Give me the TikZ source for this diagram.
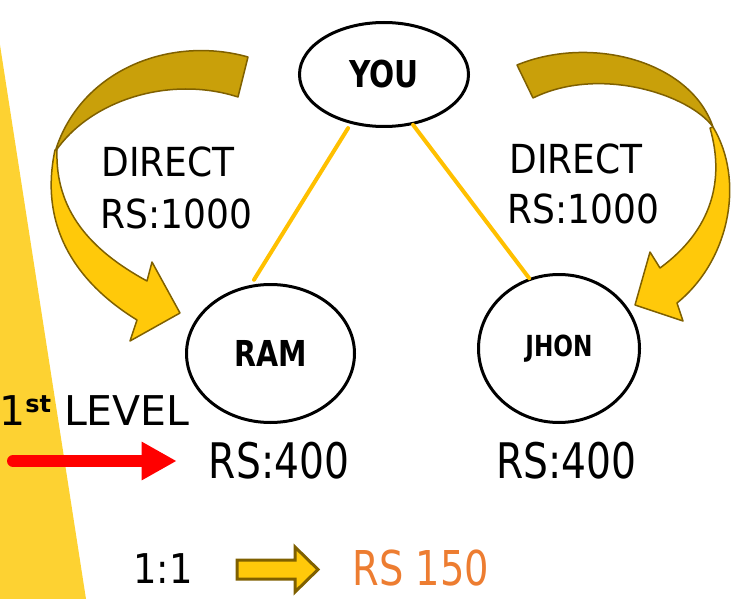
\documentclass[tikz,border=0pt]{standalone}
\usepackage{fontspec}
\setmainfont{DejaVu Sans}
\newfontfamily\widefont{DejaVu Sans}[FakeStretch=0.9]
\newfontfamily\slimfont{DejaVu Sans}[FakeStretch=0.8]
\usetikzlibrary{arrows.meta,shapes.geometric,calc}
\definecolor{band}{RGB}{253,210,50}
\definecolor{linkgold}{RGB}{255,192,0}
\definecolor{goldfront}{RGB}{255,201,10}
\definecolor{goldback}{RGB}{201,160,10}
\definecolor{olive}{RGB}{127,96,0}
\definecolor{rsorange}{RGB}{237,125,49}
\tikzset{%
  every person/.style={draw,ellipse,line width=3pt,inner sep=0pt},
  bent arrow/.style={draw=olive,line width=1.5pt,line join=round},
}

\begin{document}
\begin{tikzpicture}[x=1pt,y=-1pt,
            person/.style={every person,minimum width=#1},
            label text/.style={inner sep=0pt,anchor=base},
            direct/.style={label text,font=\fontsize{40}{46}\selectfont\widefont},
            pay/.style={label text,font=\fontsize{49}{56}\selectfont\slimfont},
            link/.style={draw=linkgold,line width=4pt,line cap=round},
            >=latex
            ]
            \useasboundingbox (0,0) rectangle (742,599);
            % yellow band on the left
            \fill[band] (0,45) -- (86,599) -- (0,599) -- cycle;

            % the three persons
            \node[person=169pt,minimum height=104pt] (you) at (384,74.5)
                {\fontsize{37}{42}\selectfont\slimfont\bfseries YOU};
            \node[person=168pt,minimum height=138pt] (ram) at (270.5,353.5)
                {\fontsize{35.7}{40}\selectfont\slimfont\bfseries RAM};
            \node[person=161pt,minimum height=148pt] (jhon) at (559,348.5)
                {\fontsize{29}{34}\selectfont\slimfont\bfseries JHON};

            % links
            \draw[link,shorten <=5pt,shorten >=6pt] (you.236) -- (ram.106.7);
            \draw[link] (you.300.7) -- (jhon.113.3);

            % left bent arrow
            \path[bent arrow,fill=goldback] (248,57) .. controls (170,35) and (80,70) .. (55,152)
                .. controls (90,100) and (170,75) .. (238,97) -- cycle;
            \path[bent arrow,fill=goldfront] (55,150) .. controls (38,230) and (80,285) .. (137,320)
                -- (130,341) -- (180,313) -- (152,262) -- (147,281)
                .. controls (90,250) and (55,210) .. (57,150) -- cycle;
            % right bent arrow
            \path[bent arrow,fill=goldback] (517,65) .. controls (590,35) and (690,60) .. (713,127)
                .. controls (690,95) and (600,65) .. (533,98) -- cycle;
            \path[bent arrow,fill=goldfront] (713,127) .. controls (745,180) and (730,260) .. (677,303)
                -- (683,321) -- (635,305) -- (650,252) -- (660,268)
                .. controls (712,230) and (725,180) .. (710,128) -- cycle;

            % texts
            \node[direct] (directl) at (168,177) {DIRECT};
            \node[direct] (rsl) at (176.5,228) {RS:1000};
            \node[direct] (directr) at (576,173.5) {DIRECT};
            \node[direct] (rsr) at (583.5,223.5) {RS:1000};
            \foreach \nm/\xx in {payl/279,payr/566.5}
                \node[pay] (\nm) at (\xx,478) {RS:400};

            \node[inner sep=0pt,anchor=base west,font=\fontsize{41}{46}\selectfont] (level) at (-1,425)
                {1\raisebox{13pt}{\fontsize{24}{24}\selectfont\bfseries st} LEVEL};
            \coordinate (lvl) at (13,461);
            \draw[red,line width=12pt,line cap=round,shorten >=32pt,
                  -{Triangle[length=35pt,width=36pt]}] (lvl) -- (lvl -| payl.west);

            \node[direct,font=\fontsize{41}{46}\selectfont\widefont] (ratio) at (163,583) {1:1};
            \node[pay,text=rsorange,font=\fontsize{48}{54}\selectfont\slimfont] (bonus) at (421,585) {RS 150};
            \path[bent arrow,fill=goldfront,line width=3pt,line join=miter] (237,560) -- (295,560) -- (295,547)
                -- (318,569.5) -- (295,592) -- (295,579) -- (237,579) -- cycle;
        \end{tikzpicture}
\end{document}
